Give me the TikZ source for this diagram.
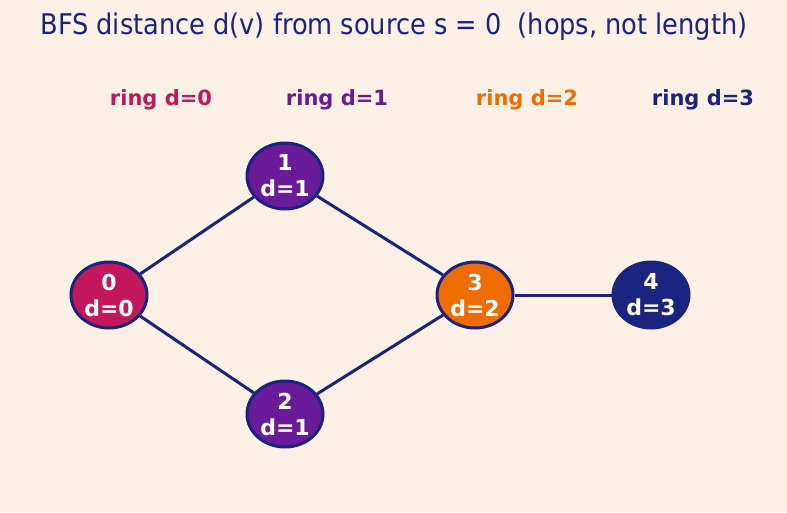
\documentclass[tikz,border=0pt]{standalone}
\usepackage{fontspec}
\setmainfont{DejaVu Sans}
\newfontfamily\condfont{DejaVu Sans Condensed}
\usetikzlibrary{shapes.geometric}
\definecolor{bgc}{HTML}{FDF1E7}
\definecolor{navy}{HTML}{1A237E}
\definecolor{crim}{HTML}{C2185B}
\definecolor{purp}{HTML}{6A1B9A}
\definecolor{oran}{HTML}{EF6C00}
\begin{document}
\begin{tikzpicture}[x=1pt,y=-1pt,
  vert/.style={ellipse, minimum width=76pt, minimum height=66pt, inner sep=0pt, draw=navy, line width=3pt, text=white, font=\bfseries\fontsize{22}{26}\selectfont, align=center},
  ring/.style={font=\bfseries\fontsize{21}{24}\selectfont},
  edge/.style={draw=navy, line width=3pt}]
\fill[bgc] (0,0) rectangle (787,512);
\useasboundingbox (0,0) rectangle (787,512);
\node[text=navy, font=\condfont\fontsize{28.5}{32}\selectfont] (title) at (394,27) {BFS distance d(v) from source s = 0\ \ (hops, not length)};
\node[ring, text=crim] (r0) at (161,100) {ring d=0};
\node[ring, text=purp] (r1) at (337,100) {ring d=1};
\node[ring, text=oran] (r2) at (527,100) {ring d=2};
\node[ring, text=navy] (r3) at (703,100) {ring d=3};
\node[vert, fill=crim] (n0) at (109,295) {0\\d=0};
\node[vert, fill=purp] (n1) at (285,176) {1\\d=1};
\node[vert, fill=purp] (n2) at (285,414) {2\\d=1};
\node[vert, fill=oran] (n3) at (475,295) {3\\d=2};
\node[vert, fill=navy] (n4) at (651,295) {4\\d=3};
\draw[edge] (n0) -- (n1);
\draw[edge] (n0) -- (n2);
\draw[edge] (n1) -- (n3);
\draw[edge] (n2) -- (n3);
\draw[edge] (n3) -- (n4);
\end{tikzpicture}
\end{document}
